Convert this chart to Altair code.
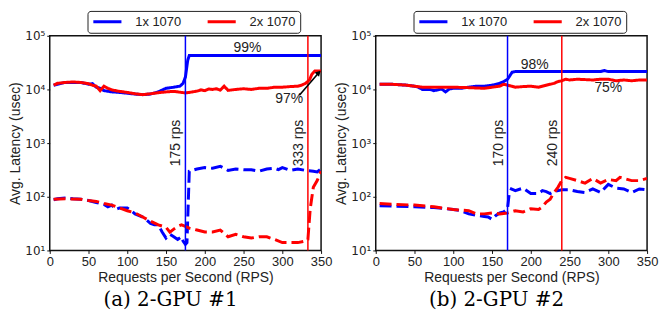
import altair as alt
import pandas as pd

# ---------------- Panel (a) 2-GPU #1 ----------------
a_blue_solid_x = [5,10,20,30,40,50,55,60,65,70,80,90,100,110,120,130,140,150,160,168,172,175,178,180,200,250,300,350]
a_blue_solid_y = [12000,12500,13500,13500,13500,12500,12800,11000,10500,9500,9000,8800,8500,8200,8000,8200,9000,10500,11000,11500,13000,17000,35000,43000,43000,43000,43000,43000]

a_red_solid_x = [5,10,20,30,40,50,55,60,65,70,75,80,90,100,110,120,130,140,150,160,170,175,180,190,195,200,205,210,215,220,225,230,240,250,260,270,280,290,300,310,320,325,330,335,338,342,350]
a_red_solid_y = [12000,13000,13500,13800,13500,12800,12000,11500,9500,11500,10500,9800,9200,8800,8300,8000,8300,8700,9000,9200,8800,8600,8800,9300,9800,9500,10200,10000,10300,9700,11500,9600,10000,10300,10000,10500,10500,11000,11000,11300,11500,12000,13000,15000,19000,22000,22000]

a_blue_dash_x = [5,10,20,30,40,50,60,70,75,80,85,90,100,105,110,120,130,135,140,145,150,155,160,165,170,172,175,177,180,190,200,210,220,230,240,250,260,270,280,290,295,300,310,320,330,340,345,350]
a_blue_dash_y = [88,92,95,92,90,85,78,72,65,70,58,62,62,55,48,42,32,30,30,22,17,20,18,16,18,15,13,14,300,330,350,340,370,310,330,320,320,300,330,340,320,350,310,330,310,300,290,330]

a_red_dash_x = [5,20,40,50,60,70,80,90,100,110,120,130,140,150,155,160,165,170,175,180,190,200,210,220,230,240,250,260,270,280,290,300,310,320,330,333,336,340,345,350]
a_red_dash_y = [90,92,90,85,82,75,70,62,55,50,42,35,30,27,22,25,28,30,28,26,24,22,22,24,18,20,18,17,18,18,16,14,14,14,15,16,60,150,200,300]

# ---------------- Panel (b) 2-GPU #2 ----------------
b_blue_solid_x = [5,20,40,50,55,60,70,75,80,85,90,95,100,110,120,130,140,150,160,165,170,173,176,180,200,250,290,295,300,310,350]
b_blue_solid_y = [12500,12500,12000,11500,11000,10000,10000,9500,9800,10200,9000,10200,10500,10500,11000,11500,11500,12000,13000,14000,15500,18000,21000,21500,21500,21500,21500,22500,21500,21500,21500]

b_red_solid_x = [5,20,40,60,80,100,120,140,150,160,165,170,175,180,190,200,210,220,230,235,240,245,250,260,280,290,300,310,320,330,340,350]
b_red_solid_y = [12500,12500,12000,11000,11000,11000,10800,10500,11000,11500,12500,12000,11500,11000,11300,11500,11000,12000,13000,14000,14500,15500,15000,15500,15000,15500,15500,14500,15000,14500,15000,15000]

b_blue_dash_x = [5,25,50,75,100,110,120,130,140,145,150,155,160,165,170,172,175,180,190,200,210,215,220,225,230,240,250,260,270,280,290,300,310,320,330,340,350]
b_blue_dash_y = [68,67,65,63,58,55,48,45,43,42,38,45,50,52,60,110,140,130,145,115,115,130,125,115,125,135,135,125,120,140,120,170,145,140,120,140,135]

b_red_dash_x = [5,25,50,75,100,120,130,140,150,160,170,180,190,200,210,215,220,225,230,235,240,245,250,260,270,280,290,300,310,315,320,330,340,350]
b_red_dash_y = [75,72,70,65,58,55,48,48,50,48,50,55,52,60,58,65,80,90,120,150,200,230,220,200,180,220,180,210,200,230,220,200,200,220]

series_names = ["1x 1070", "2x 1070"]
series_colors = ["#0000ff", "#ff0000"]

x_ticks = [0, 50, 100, 150, 200, 250, 300, 350]
y_ticks = [10, 100, 1000, 10000, 100000]

# vertical markers and annotations
a_rules = [175, 333]
b_rules = [170, 240]
a_notes = [(255, 60000, "99%"), (309, 6600, "97%")]
b_notes = [(205, 28500, "98%"), (300, 10400, "75%")]
a_arrow = [(322, 7800), (347, 20500)]

FONT = "Liberation Sans"
TXT = "#222222"

X_SCALE = alt.Scale(domain=[0, 350], nice=False)
Y_SCALE = alt.Scale(type="log", domain=[10, 100000], nice=False)
X_AXIS = alt.Axis(values=x_ticks, labelOverlap=False, labelFlush=False,
                  title="Requests per Second (RPS)")
Y_AXIS = alt.Axis(values=y_ticks, labelOverlap=False, labelFlush=False,
                  labelFont="DejaVu Sans", labelFontSize=12,
                  title="Avg. Latency (usec)",
                  labelExpr="datum.value == 10 ? '10\u00b9' : datum.value == 100 ? '10\u00b2' : datum.value == 1000 ? '10\u00b3' : datum.value == 10000 ? '10\u2074' : '10\u2075'")


def xe(field="x"):
    return alt.X(f"{field}:Q", scale=X_SCALE, axis=X_AXIS)


def ye(field="y"):
    return alt.Y(f"{field}:Q", scale=Y_SCALE, axis=Y_AXIS)


def frame(xs, ys, series, kind):
    return pd.DataFrame({"x": xs, "y": ys, "series": series, "kind": kind})


def panel(lines, rules, notes, caption, arrow=None):
    df = pd.concat(lines, ignore_index=True)
    lines_layer = alt.Chart(df).mark_line(strokeWidth=3, clip=True).encode(
        x=xe(), y=ye(),
        color=alt.Color("series:N", scale=alt.Scale(domain=series_names, range=series_colors),
                        legend=alt.Legend(title=None, orient="none", legendX=38, legendY=-25,
                                          direction="horizontal", strokeColor="#222222",
                                          cornerRadius=3, padding=4, symbolType="stroke",
                                          symbolStrokeWidth=3, symbolSize=800, symbolDash=[1, 0],
                                          clipHeight=14,
                                          labelFontSize=13, labelFont=FONT, labelColor=TXT,
                                          columnPadding=24, labelOffset=12)),
        strokeDash=alt.StrokeDash("kind:N", scale=alt.Scale(domain=["solid", "dash"], range=[[1, 0], [12, 5]]),
                                  legend=None),
        detail="kind:N",
        order="x:Q",
    )
    rdf = pd.DataFrame({"x": rules, "c": series_colors, "label": [f"{r} rps" for r in rules],
                        "y": [1000, 1000]})
    rule_layer = alt.Chart(rdf).mark_rule(strokeWidth=1.5).encode(
        x=xe(),
        color=alt.Color("c:N", scale=None),
    )
    rule_text = alt.Chart(rdf).mark_text(angle=270, baseline="bottom", align="center", dy=-2,
                                         fontSize=14, font=FONT, color=TXT).encode(
        x=xe(), y=ye(), text="label:N")
    ndf = pd.DataFrame({"x": [n[0] for n in notes], "y": [n[1] for n in notes], "t": [n[2] for n in notes]})
    note_layer = alt.Chart(ndf).mark_text(fontSize=14, font=FONT, color=TXT).encode(
        x=xe(), y=ye(), text="t:N")
    layers = [lines_layer, rule_layer, rule_text, note_layer]
    if arrow is not None:
        adf = pd.DataFrame({"x": [arrow[0][0]], "y": [arrow[0][1]], "x2": [arrow[1][0]], "y2": [arrow[1][1]]})
        layers.append(alt.Chart(adf).mark_rule(strokeWidth=1.6, color="black").encode(
            x=xe(), y=ye(), x2="x2:Q", y2="y2:Q"))
        hdf = pd.DataFrame({"x": [arrow[1][0]], "y": [arrow[1][1]]})
        layers.append(alt.Chart(hdf).mark_point(shape="triangle-up", filled=True, size=40,
                                                angle=45, color="black", opacity=1).encode(
            x=xe(), y=ye()))
    return alt.layer(*layers).properties(
        width=273, height=216,
        title=alt.TitleParams(caption, orient="bottom", font="DejaVu Serif", fontSize=20,
                              fontWeight="normal", color="black", offset=6, dx=-15),
    )


pa = panel([
    frame(a_blue_solid_x, a_blue_solid_y, "1x 1070", "solid"),
    frame(a_red_solid_x, a_red_solid_y, "2x 1070", "solid"),
    frame(a_blue_dash_x, a_blue_dash_y, "1x 1070", "dash"),
    frame(a_red_dash_x, a_red_dash_y, "2x 1070", "dash"),
], a_rules, a_notes, "(a) 2-GPU #1", arrow=a_arrow)

pb = panel([
    frame(b_blue_solid_x, b_blue_solid_y, "1x 1070", "solid"),
    frame(b_red_solid_x, b_red_solid_y, "2x 1070", "solid"),
    frame(b_blue_dash_x, b_blue_dash_y, "1x 1070", "dash"),
    frame(b_red_dash_x, b_red_dash_y, "2x 1070", "dash"),
], b_rules, b_notes, "(b) 2-GPU #2")

chart = alt.hconcat(pa, pb, spacing=1).resolve_scale(
    color="independent", strokeDash="independent"
).resolve_legend(color="independent").configure_view(
    stroke="#111111", strokeWidth=1.5
).configure_axis(
    grid=False, ticks=True, tickSize=3, tickColor="#111111", labelPadding=2, domain=False,
    labelFont=FONT, labelFontSize=13, labelColor=TXT,
    titleFont=FONT, titleFontSize=14, titleColor=TXT, titleFontWeight="normal",
).configure_axisY(titlePadding=2).configure_axisX(titlePadding=2).properties(
    background="white", padding={"left": 0, "top": 0, "right": 0, "bottom": 0}
)

chart.save("out.html", embed_options={"renderer": "svg", "actions": False})
